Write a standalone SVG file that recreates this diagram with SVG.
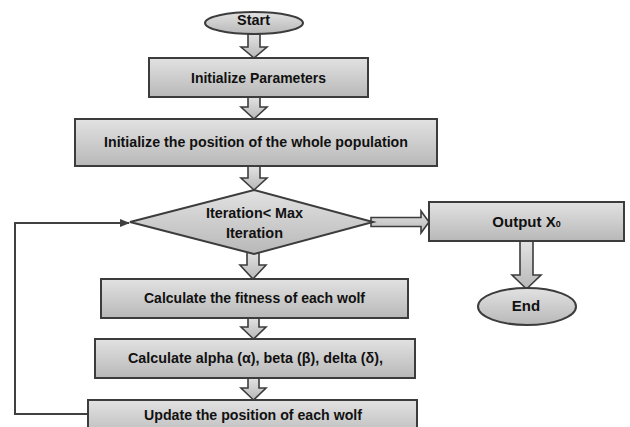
<svg xmlns="http://www.w3.org/2000/svg" width="630" height="427" viewBox="0 0 630 427">
<defs>
<linearGradient id="g" x1="0" y1="0" x2="0" y2="1">
<stop offset="0" stop-color="#e2e2e2"/>
<stop offset="1" stop-color="#b8b8b8"/>
</linearGradient>
<marker id="tri" markerWidth="10" markerHeight="10" refX="9" refY="5" orient="auto" markerUnits="userSpaceOnUse">
<path d="M0,1 L10,5 L0,9 Z" fill="#404040"/>
</marker>
<style>
.n{fill:url(#g);stroke:#3c3c3c;stroke-width:2}
.a{fill:url(#g);stroke:#3c3c3c;stroke-width:1.6;stroke-linejoin:miter}
.t{font-family:"Liberation Sans",Arial,sans-serif;font-weight:bold;font-size:15px;fill:#111111;text-anchor:middle}
.c{fill:none;stroke:#404040;stroke-width:2}
</style>
</defs>
<rect width="630" height="427" fill="#ffffff"/>
<g id="connectors">
<polyline class="c" points="88,414 15,414 15,223 129,223" marker-end="url(#tri)"/>
<polygon class="a" points="248,34 260,34 260,47 267,47 254,58 241,47 248,47"/>
<polygon class="a" points="248,97 260,97 260,107 267,107 254,119 241,107 248,107"/>
<polygon class="a" points="248,166 260,166 260,178 267,178 254,190 241,178 248,178"/>
<polygon class="a" points="247,252 259,252 259,265 266,265 253,279 240,265 247,265"/>
<polygon class="a" points="248,318 259,318 259,327 266,327 253.5,339 241,327 248,327"/>
<polygon class="a" points="248,378 259,378 259,388 266,388 253.5,400 241,388 248,388"/>
<polygon class="a" points="520,241 533,241 533,275 541,275 526.5,289 512,275 520,275"/>
<polygon class="a" points="371,217.5 421,217.5 421,211 429,222 421,233 421,226.5 371,226.5"/>
</g>
<g id="start">
<ellipse class="n" cx="254" cy="23" rx="49" ry="11"/>
<text class="t" x="253.5" y="25" textLength="33" lengthAdjust="spacingAndGlyphs">Start</text>
</g>
<g id="init-params">
<rect class="n" x="149" y="58" width="219" height="39"/>
<text class="t" x="258.5" y="83" textLength="135" lengthAdjust="spacingAndGlyphs">Initialize Parameters</text>
</g>
<g id="init-position">
<rect class="n" x="75" y="119" width="362" height="47"/>
<text class="t" x="256" y="147" textLength="304" lengthAdjust="spacingAndGlyphs">Initialize the position of the whole population</text>
</g>
<g id="decision">
<polygon class="n" points="254,190 373,222 254,254 130,222"/>
<text class="t" x="254.5" y="218" textLength="97" lengthAdjust="spacingAndGlyphs">Iteration&lt; Max</text>
<text class="t" x="254.5" y="238" textLength="57" lengthAdjust="spacingAndGlyphs">Iteration</text>
</g>
<g id="output">
<rect class="n" x="429" y="202" width="195" height="39"/>
<text class="t" x="526.5" y="227">Output X<tspan font-size="9">0</tspan></text>
</g>
<g id="end">
<ellipse class="n" cx="527" cy="306.5" rx="49" ry="18.5"/>
<text class="t" x="526" y="311" font-size="16">End</text>
</g>
<g id="fitness">
<rect class="n" x="101" y="279" width="307" height="39"/>
<text class="t" x="254.5" y="303" textLength="221" lengthAdjust="spacingAndGlyphs">Calculate the fitness of each wolf</text>
</g>
<g id="alpha-beta-delta">
<rect class="n" x="95" y="339" width="320" height="39"/>
<text class="t" x="255.5" y="363" textLength="255" lengthAdjust="spacingAndGlyphs">Calculate alpha (α), beta (β), delta (δ),</text>
</g>
<g id="update">
<rect class="n" x="88" y="400" width="329" height="40"/>
<text class="t" x="253" y="420" textLength="218" lengthAdjust="spacingAndGlyphs">Update the position of each wolf</text>
</g>
</svg>
